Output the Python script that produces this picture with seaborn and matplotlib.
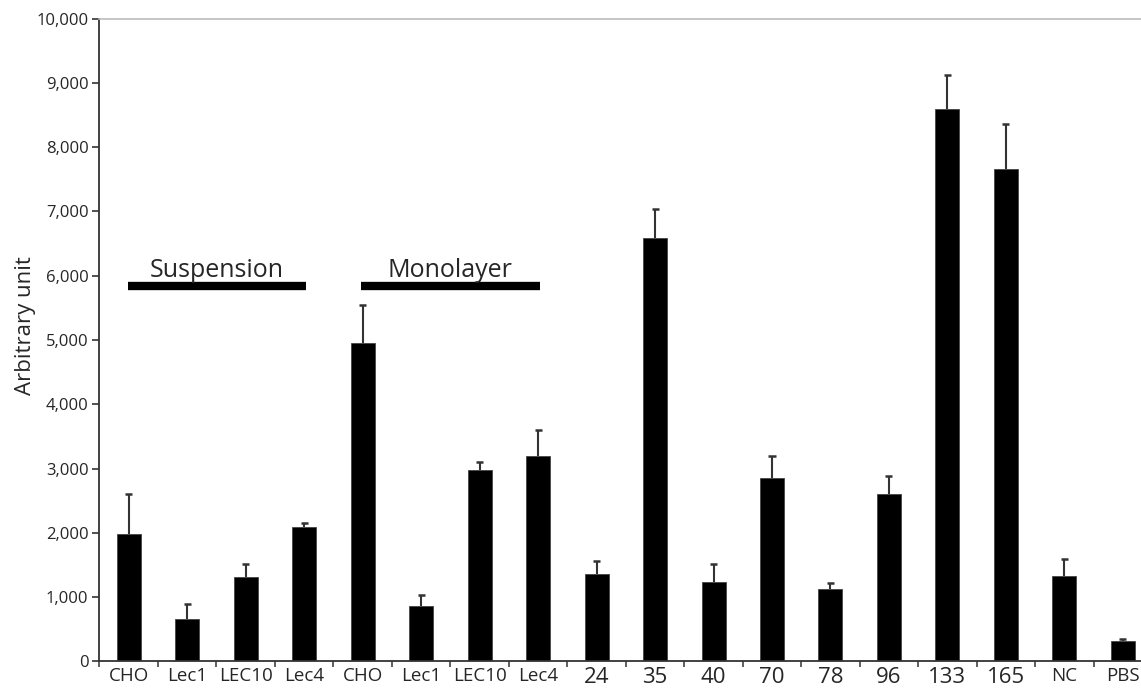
import numpy as np
import pandas as pd
import matplotlib
matplotlib.use("Agg")
import matplotlib.pyplot as plt
from matplotlib.ticker import FuncFormatter, FixedLocator
import seaborn as sns

# %%
# values
labels = ["CHO", "Lec1", "LEC10", "Lec4", "CHO", "Lec1", "LEC10", "Lec4",
          "24", "35", "40", "70", "78", "96", "133", "165", "NC", "PBS"]
means = [1990, 655, 1315, 2090, 4950, 860, 2975, 3200,
         1355, 6580, 1230, 2855, 1120, 2605, 8595, 7665, 1335, 320]
err_top = [2600, 895, 1510, 2150, 5545, 1035, 3100, 3595,
           1560, 7035, 1510, 3200, 1225, 2890, 9120, 8360, 1595, 345]
groups = ["Suspension", "Monolayer"]
group_span = [(0, 3), (4, 7)]
group_level = 5840

df = pd.DataFrame({"pos": np.arange(len(labels)), "label": labels,
                   "value": means, "top": err_top})

# %%
sns.set_style("white")
plt.rcParams["font.family"] = ["Open Sans", "DejaVu Sans"]

fig = plt.figure(figsize=(11.41, 6.93), dpi=100)
ax = fig.add_axes([0.0872, 0.0455, 0.9128, 0.9278])

sns.barplot(data=df, x="pos", y="value", color="black", width=0.41,
            edgecolor="#444444", linewidth=0.6, saturation=1, errorbar=None, ax=ax)

# upper-only error bars
ax.vlines(df.pos, df.value, df.top, color="#333333", lw=1.5, zorder=3)
ax.hlines(df.top, df.pos - 0.06, df.pos + 0.06, color="#333333", lw=1.8, zorder=3)

for g, (a, b) in zip(groups, group_span):
    ax.plot([a - 0.02, b + 0.03], [group_level, group_level], color="black",
            lw=6, solid_capstyle="butt")
    ax.text((a + b) / 2, group_level + 140, g, ha="center", va="baseline", fontsize=18)

ax.set_ylim(0, 10000)
ax.set_xlim(-0.5, 17.31)
ax.set_yticks(np.arange(0, 10001, 1000))
ax.yaxis.set_major_formatter(FuncFormatter(lambda v, p: f"{int(v):,}"))
ax.tick_params(axis="y", labelsize=12, length=5, width=1.2, color="#333333",
               left=True, pad=3)

ax.set_xticks(df.pos)
ax.set_xticklabels(labels)
for t, lab in zip(ax.get_xticklabels(), labels):
    t.set_fontsize(16 if lab.isdigit() else 13.5)
ax.xaxis.set_minor_locator(FixedLocator(np.arange(-0.5, 18, 1)))
ax.tick_params(axis="x", which="major", length=0, pad=4)
ax.tick_params(axis="x", which="minor", length=4, width=1.2, color="#444444",
               bottom=True)

ax.set_xlabel("")
ax.set_ylabel("Arbitrary unit", fontsize=16)
ax.yaxis.set_label_coords(-0.061, 0.522)

for s in ["left", "bottom"]:
    ax.spines[s].set_color("#333333")
    ax.spines[s].set_linewidth(1.3)
ax.spines["top"].set_color("#bbbbbb")
ax.spines["top"].set_linewidth(1.2)
ax.spines["right"].set_visible(False)

plt.savefig("out.png", dpi=100)
